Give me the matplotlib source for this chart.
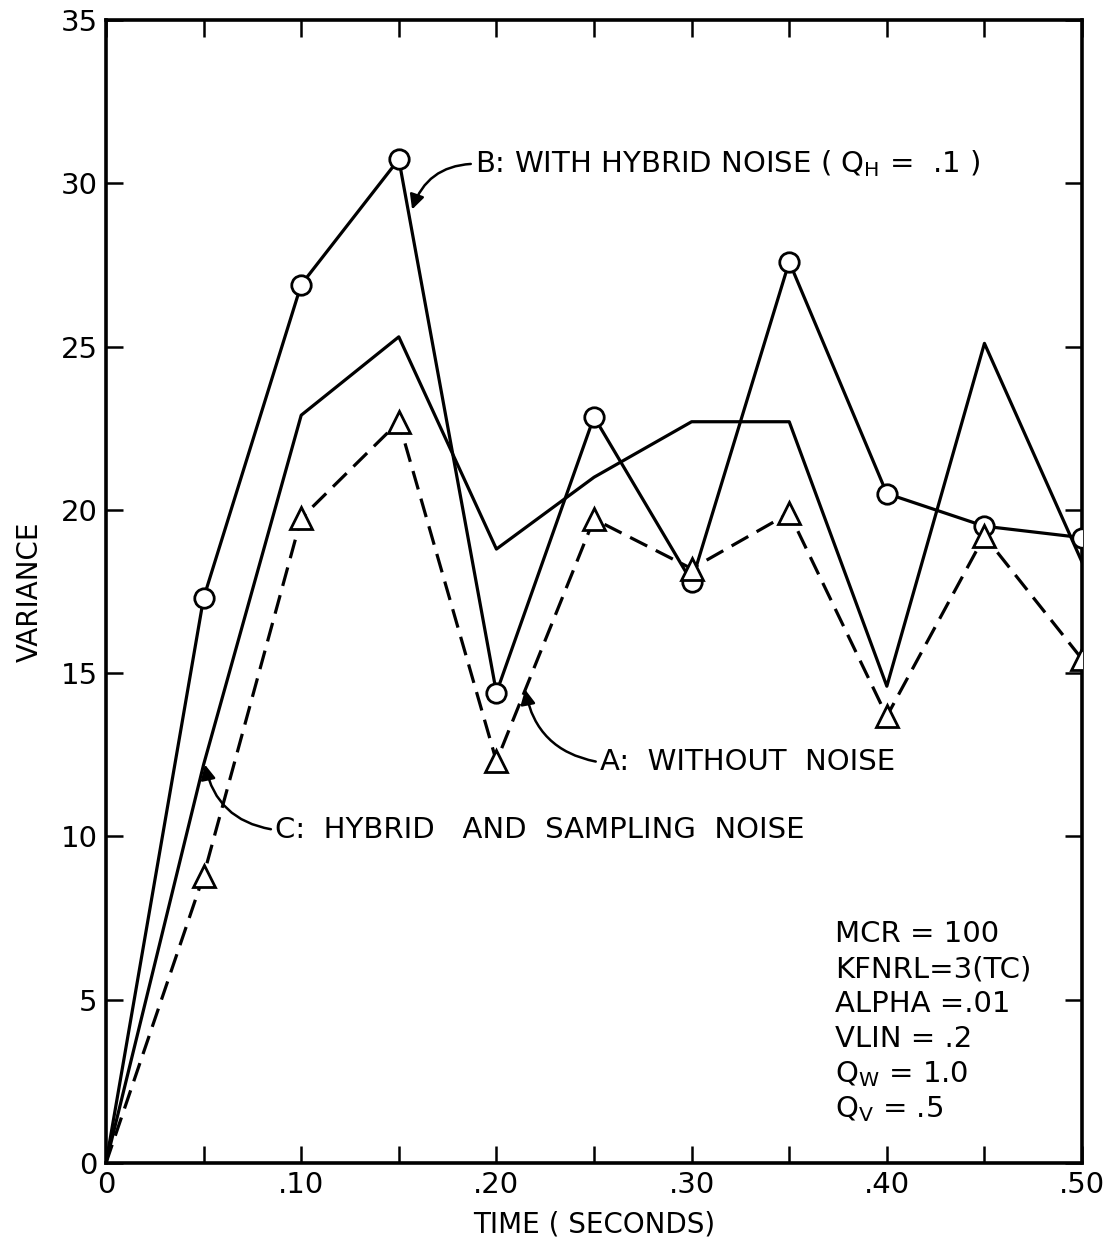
import matplotlib
matplotlib.use("Agg")
import matplotlib.pyplot as plt

# Data
time = [0.0, 0.05, 0.10, 0.15, 0.20, 0.25, 0.30, 0.35, 0.40, 0.45, 0.50]
var_a = [0.0, 12.2, 22.9, 25.3, 18.8, 21.0, 22.7, 22.7, 14.6, 25.1, 18.4]
var_b = [0.0, 17.3, 26.9, 30.74, 14.4, 22.85, 17.8, 27.6, 20.5, 19.5, 19.15]
var_c = [0.0, 8.8, 19.75, 22.7, 12.3, 19.72, 18.2, 19.9, 13.68, 19.2, 15.43]

x_ticks = [0, 0.05, 0.10, 0.15, 0.20, 0.25, 0.30, 0.35, 0.40, 0.45, 0.50]
x_labels = ["0", "", ".10", "", ".20", "", ".30", "", ".40", "", ".50"]
y_ticks = [0, 5, 10, 15, 20, 25, 30, 35]
y_labels = ["0", "5", "10", "15", "20", "25", "30", "35"]

params = ["MCR = 100", "KFNRL=3(TC)", "ALPHA =.01", "VLIN = .2",
          r"Q$_\mathrm{W}$ = 1.0", r"Q$_\mathrm{V}$ = .5"]

plt.rcParams['font.family'] = ['DejaVu Sans']
plt.rcParams['mathtext.fontset'] = 'dejavusans'

fig = plt.figure(figsize=(11.03, 12.49), dpi=100)
ax = fig.add_axes([0.0961, 0.0689, 0.8849, 0.915])

lw = 2.3
ax.plot(time, var_a, color='black', lw=lw, zorder=2)
ax.plot(time[1:], var_b[1:], color='black', lw=lw, marker='o', ms=14,
        mfc='white', mec='black', mew=2, zorder=3)
ax.plot(time[:2], var_b[:2], color='black', lw=lw, zorder=2)
ax.plot(time, var_c, color='black', lw=lw, ls=(0, (6, 3)), zorder=2)
ax.plot(time[1:], var_c[1:], ls='none', marker='^', ms=16,
        mfc='white', mec='black', mew=2, zorder=3)

ax.set_xlim(0, 0.5)
ax.set_ylim(0, 35)
ax.set_xticks(x_ticks)
ax.set_xticklabels(x_labels)
ax.set_yticks(y_ticks)
ax.set_yticklabels(y_labels)
ax.tick_params(direction='in', length=12, width=1.8, top=True, right=True,
               labelsize=21, pad=6)
for s in ax.spines.values():
    s.set_linewidth(2.6)

ax.set_xlabel("TIME ( SECONDS)", fontsize=20, labelpad=8)
ax.set_ylabel("VARIANCE", fontsize=20, labelpad=12)

fs = 21
arrow = dict(arrowstyle='-|>', color='black', lw=1.8, mutation_scale=22,
             shrinkA=1, shrinkB=0, relpos=(0, 0.5))
ax.annotate(r"B: WITH HYBRID NOISE ( Q$_\mathrm{H}$ =  .1 )",
            xy=(0.1568, 29.2), xytext=(0.189, 30.6), fontsize=fs,
            va='center', ha='left',
            arrowprops=dict(arrow, connectionstyle='arc3,rad=0.35'))
ax.annotate("A:  WITHOUT  NOISE",
            xy=(0.2147, 14.5), xytext=(0.253, 12.27), fontsize=fs,
            va='center', ha='left',
            arrowprops=dict(arrow, connectionstyle='arc3,rad=-0.35'))
ax.annotate("C:  HYBRID   AND  SAMPLING  NOISE",
            xy=(0.0507, 12.2), xytext=(0.0866, 10.2), fontsize=fs,
            va='center', ha='left',
            arrowprops=dict(arrow, connectionstyle='arc3,rad=-0.35'))

y0 = 7.0
for i, p in enumerate(params):
    ax.text(0.3735, y0 - i * 1.07, p, fontsize=fs, va='center', ha='left')

fig.savefig("out.png", dpi=100)
